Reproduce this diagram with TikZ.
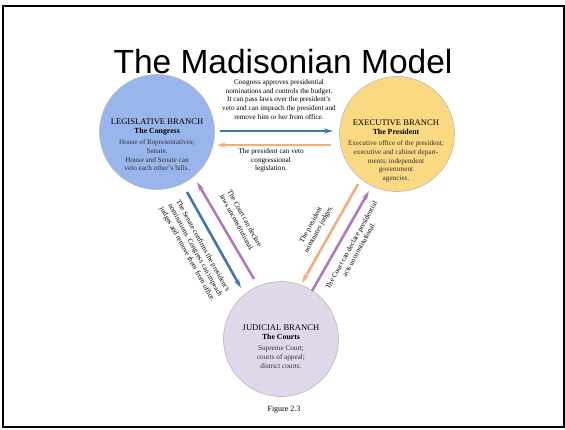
\documentclass[tikz,border=0pt]{standalone}
\usepackage{fontspec}
\setmainfont{Liberation Serif}
\newfontfamily\titlefont{Liberation Sans}
\usetikzlibrary{arrows.meta}

\definecolor{legblue}{RGB}{152,182,236}
\definecolor{exeyellow}{RGB}{251,216,130}
\definecolor{judlilac}{RGB}{226,216,236}
\definecolor{arrblue}{RGB}{66,118,178}
\definecolor{arrorange}{RGB}{246,172,122}
\definecolor{arrpurple}{RGB}{178,120,188}

\newcommand{\headsize}{\fontsize{8.6}{10}\selectfont}
\newcommand{\subsize}{\fontsize{7.8}{9}\selectfont\bfseries}
\newcommand{\bodysize}{\fontsize{7.2}{8.8}\selectfont}

\begin{document}
\begin{tikzpicture}[x=1pt, y=-1pt,
	branch/.style={circle, draw=gray!55, line width=.6pt, minimum size=115pt, inner sep=0pt},
	branchtext/.style={align=center, inner sep=0pt, anchor=north, font=\bodysize, text=black!80},
	note/.style={align=center, inner sep=0pt, font=\bodysize},
	power/.style={line width=2.6pt, -{Stealth[length=9pt, width=5pt]}}]

	\useasboundingbox (0,0) rectangle (565,429);
	\draw[line width=1.5pt] (3,6) rectangle (564,427);

	% Title
	\node[anchor=base, inner sep=0pt, font=\titlefont\fontsize{33.5}{36}\selectfont] (title) at (283,73) {The Madisonian Model};

	% Branches
	\node[branch, fill=legblue]   (leg) at (157,132) {};
	\node[branch, fill=exeyellow] (exe) at (397,134) {};
	\node[branch, fill=judlilac]  (jud) at (281,339) {};

	\node[branchtext] (legtxt) at (157,119) {{\headsize\color{black} LEGISLATIVE BRANCH}\\
		{\subsize\color{black} The Congress}\\[2pt]
		House of Representatives;\\ Senate.\\ House and Senate can\\ veto each other's bills.};
	\node[branchtext] (exetxt) at (396,120) {{\headsize\color{black} EXECUTIVE BRANCH}\\
		{\subsize\color{black} The President}\\[2pt]
		Executive office of the president;\\ executive and cabinet depart-\\ ments; independent\\ government\\ agencies.};
	\node[branchtext] (judtxt) at (281,325) {{\headsize\color{black} JUDICIAL BRANCH}\\
		{\subsize\color{black} The Courts}\\[2pt]
		Supreme Court;\\ courts of appeal;\\ district courts.};

	% Arrow ends
	\coordinate (legE1) at (220,131);
	\coordinate (exeW1) at (333,131);
	\coordinate (exeW2) at (331,145);
	\coordinate (legE2) at (217,145);
	\coordinate (legS1) at (187,192);
	\coordinate (judN1) at (241,288);
	\coordinate (judN2) at (254,279);
	\coordinate (legS2) at (197,182);
	\coordinate (exeS1) at (358,184);
	\coordinate (judN3) at (302,283);
	\coordinate (judN4) at (312,291);
	\coordinate (exeS2) at (369,191);

	% Checks and balances
	\draw[power, arrblue]   (legE1) -- (exeW1);
	\draw[power, arrorange] (exeW2) -- (legE2);
	\draw[power, arrblue]   (legS1) -- (judN1);
	\draw[power, arrpurple] (judN2) -- (legS2);
	\draw[power, arrorange] (exeS1) -- (judN3);
	\draw[power, arrpurple] (judN4) -- (exeS2);

	% Labels
	\node[note, anchor=north] (vetoover) at (279,79) {Congress approves presidential\\
		nominations and controls the budget.\\ It can pass laws over the president's\\
		veto and can impeach the president and\\ remove him or her from office.};
	\node[note, anchor=north] (veto) at (271,148) {The president can veto\\ congressional\\ legislation.};
	\node[note, rotate=-61] (courtleg) at (241,220.5) {The Court can declare\\ laws unconstitutional.};
	\node[note, rotate=-61] (senate) at (195,250.5) {The Senate confirms the president's\\
		nominations. Congress can impeach\\ judges and remove them from office.};
	\node[note, rotate=61] (nominate) at (315,227.5) {The president\\ nominates judges.};
	\node[note, rotate=61] (courtexe) at (355,247.5) {The Court can declare presidential\\ acts unconstitutional.};

	% Caption
	\node[anchor=base, inner sep=0pt, font=\fontsize{8}{9}\selectfont] (caption) at (284,411) {Figure 2.3};

\end{tikzpicture}
\end{document}
